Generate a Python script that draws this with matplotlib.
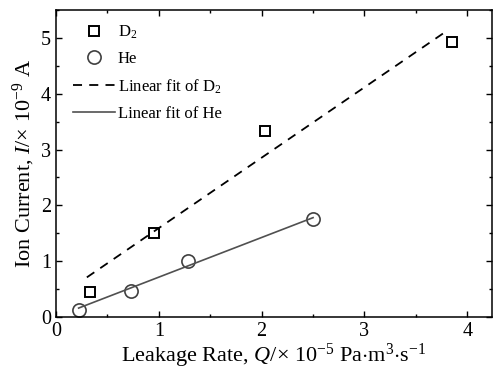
import matplotlib
matplotlib.use("Agg")
from matplotlib import pyplot as plt
from matplotlib.ticker import MultipleLocator

plt.rcParams['font.family'] = ['Liberation Serif', 'DejaVu Serif']
plt.rcParams['mathtext.fontset'] = 'custom'
plt.rcParams['mathtext.rm'] = 'Liberation Serif'
plt.rcParams['mathtext.it'] = 'Liberation Serif:italic'

# measured points
d2_q = [0.33, 0.955, 2.03, 3.855]
d2_i = [0.45, 1.51, 3.34, 4.92]
he_q = [0.22, 0.725, 1.28, 2.50]
he_i = [0.125, 0.47, 1.01, 1.75]

# linear fits (end points)
d2_fit_q = [0.30, 3.82]
d2_fit_i = [0.71, 5.15]
he_fit_q = [0.22, 2.50]
he_fit_i = [0.16, 1.78]

fig = plt.figure(figsize=(4.94, 3.79), dpi=100)
ax = fig.add_axes([56 / 494, 1 - 317 / 379, 436 / 494, 307 / 379])

ax.plot(d2_q, d2_i, ls='none', marker='s', ms=7.5, mfc='none', mec='black', mew=1.4, label='D$_2$')
ax.plot(he_q, he_i, ls='none', marker='o', ms=9.5, mfc='none', mec='#404040', mew=1.2, label='He')
ax.plot(d2_fit_q, d2_fit_i, ls=(0, (5, 4)), color='black', lw=1.3, label='Linear fit of D$_2$')
ax.plot(he_fit_q, he_fit_i, ls='-', color='#505050', lw=1.2, label='Linear fit of He')

ax.set_xlim(0, 4.24)
ax.set_ylim(0, 5.5)
ax.xaxis.set_major_locator(MultipleLocator(1))
ax.xaxis.set_minor_locator(MultipleLocator(0.5))
ax.yaxis.set_major_locator(MultipleLocator(1))
ax.yaxis.set_minor_locator(MultipleLocator(0.5))
ax.tick_params(which='both', direction='in', top=True, right=True, labelsize=14.5, width=1.0)
ax.tick_params(which='major', length=4)
ax.tick_params(which='minor', length=2.5)
for s in ax.spines.values():
    s.set_linewidth(1.1)

ax.set_xlabel(r'Leakage Rate, $Q$/$\times$ 10$^{-5}$ Pa$\cdot$m$^3$$\cdot$s$^{-1}$', fontsize=16, labelpad=1)
ax.set_ylabel(r'Ion Current, $I$/$\times$ 10$^{-9}$ A', fontsize=16, labelpad=3)

ax.legend(loc='upper left', bbox_to_anchor=(0.039, 0.955), frameon=False, fontsize=12,
          handlelength=2.5, handletextpad=0.2, labelspacing=0.6,
          borderaxespad=0, borderpad=0)

fig.savefig('out.png', dpi=100)
